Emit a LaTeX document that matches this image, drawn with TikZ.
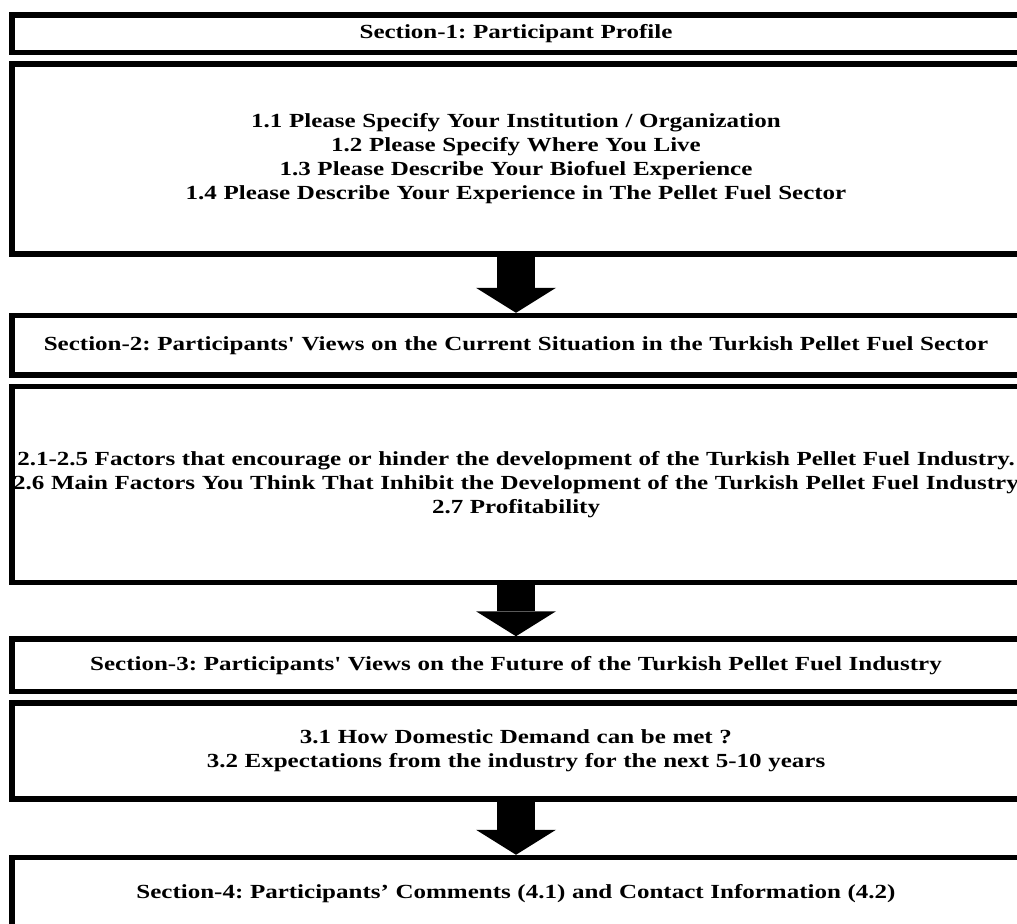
\documentclass[tikz,border=0pt]{standalone}
\usepackage{fontspec}
\setmainfont{Liberation Serif}[FakeStretch=1.25, Ligatures=TeXOff]
\frenchspacing
\usepackage{tikz}
\usetikzlibrary{arrows.meta}

\begin{document}
\begin{tikzpicture}[x=0.75pt, y=-0.75pt,
    secbox/.style={rectangle, draw=black, line width=4.1pt, fill=white,
                   minimum width=756pt, text width=752pt, inner sep=0pt, align=center,
                   font=\bfseries\fontsize{15pt}{18pt}\selectfont},
    blockarr/.style={line width=28.5pt,
                     -{Triangle[width=60pt, length=18.75pt, line width=0pt]}}
]
    \useasboundingbox (0,0) rectangle (1017,924);
    \clip (0,0) rectangle (1017,924);

    \node[secbox, minimum height=28.1pt] (s1) at (516, 33.75)
        {Section-1: Participant Profile};
    \node[secbox, minimum height=142.3pt] (q1) at (516, 158.9)
        {1.1 Please Specify Your Institution / Organization\\
         1.2 Please Specify Where You Live\\
         1.3 Please Describe Your Biofuel Experience\\
         1.4 Please Describe Your Experience in The Pellet Fuel Sector};
    \node[secbox, minimum height=44.6pt] (s2) at (516, 345.25)
        {Section-2: Participants' Views on the Current Situation in the Turkish Pellet Fuel Sector};
    \node[secbox, minimum height=146.9pt] (q2) at (516, 484.6)
        {\makebox[0pt]{2.1-2.5 Factors that encourage or hinder the development of the Turkish Pellet Fuel Industry.}\\
         \makebox[0pt]{2.6 Main Factors You Think That Inhibit the Development of the Turkish Pellet Fuel Industry}\\
         2.7 Profitability};
    \node[secbox, minimum height=39.4pt] (s3) at (516, 665.25)
        {Section-3: Participants' Views on the Future of the Turkish Pellet Fuel Industry};
    \node[secbox, minimum height=72pt] (q3) at (516, 751)
        {3.1 How Domestic Demand can be met ?\\
         3.2 Expectations from the industry for the next 5-10 years};
    \node[secbox, minimum height=54.4pt] (s4) at (516, 893.75)
        {Section-4: Participants’ Comments (4.1) and Contact Information (4.2)};

    \draw[blockarr] (q1.south) -- (s2.north);
    \draw[blockarr] (q2.south) -- (s3.north);
    \draw[blockarr] (q3.south) -- (s4.north);
\end{tikzpicture}
\end{document}
